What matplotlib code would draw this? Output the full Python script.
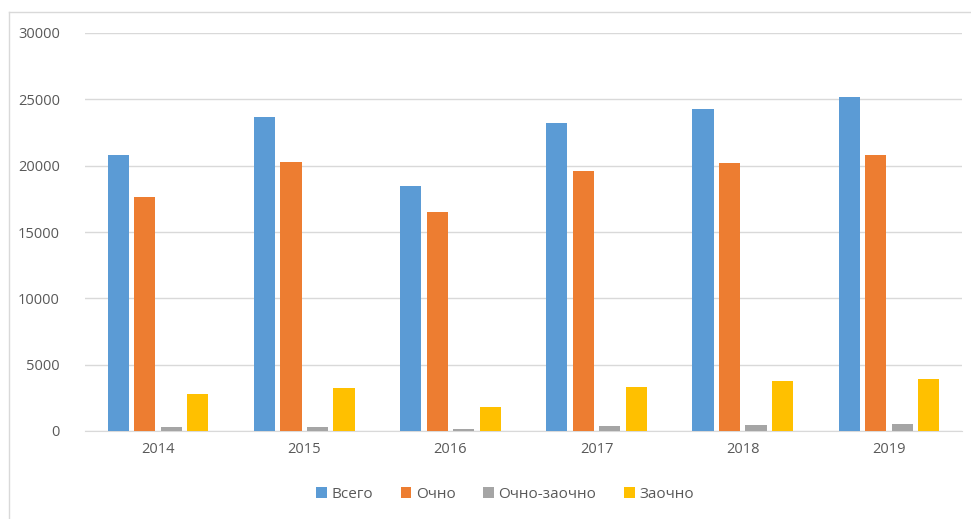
import matplotlib.pyplot as plt
import numpy as np
from matplotlib.lines import Line2D

# data
years = ['2014', '2015', '2016', '2017', '2018', '2019']
series_names = ['Всего', 'Очно', 'Очно-заочно', 'Заочно']
vsego = [20800, 23700, 18500, 23200, 24270, 25200]
ochno = [17670, 20250, 16510, 19600, 20180, 20800]
ochno_zaochno = [270, 270, 175, 350, 450, 550]
zaochno = [2810, 3240, 1830, 3340, 3740, 3890]
colors = ['#5B9BD5', '#ED7D31', '#A5A5A5', '#FFC000']

plt.rcParams['font.family'] = ['Open Sans', 'DejaVu Sans']

fig = plt.figure(figsize=(9.71, 5.19), dpi=100)
ax = fig.add_axes([85 / 971, 88 / 519, 877 / 971, 398 / 519])

x = np.arange(len(years))
pitch = 0.181
width = 0.145
all_series = [vsego, ochno, ochno_zaochno, zaochno]
for i, vals in enumerate(all_series):
    ax.bar(x + (i - 1.5) * pitch, vals, width, color=colors[i],
           label=series_names[i], zorder=3)

ax.set_xlim(-0.5, len(years) - 0.5)
ax.set_ylim(0, 30000)
ax.set_yticks(np.arange(0, 30001, 5000))
ax.set_xticks(x)
ax.set_xticklabels(years)
ax.grid(axis='y', color='#D9D9D9', linewidth=1, zorder=0)
for s in ['top', 'right', 'left']:
    ax.spines[s].set_visible(False)
ax.spines['bottom'].set_color('#D9D9D9')
ax.tick_params(length=0, labelsize=10.5, labelcolor='#595959')
ax.tick_params(axis='y', pad=18)
ax.tick_params(axis='x', pad=8)

leg = ax.legend(loc='center', bbox_to_anchor=(0.479, -0.159), ncol=4,
                frameon=False, fontsize=11, handlelength=0.7,
                handleheight=0.7, handletextpad=0.3, columnspacing=1.8)
for t in leg.get_texts():
    t.set_color('#595959')

# chart frame (only left and top edges visible)
fig.add_artist(Line2D([8.5 / 971, 8.5 / 971], [0, 1 - 11.5 / 519],
                      transform=fig.transFigure, color='#D9D9D9', lw=1))
fig.add_artist(Line2D([8.5 / 971, 1], [1 - 11.5 / 519, 1 - 11.5 / 519],
                      transform=fig.transFigure, color='#D9D9D9', lw=1))

fig.savefig('out.png', dpi=100)
